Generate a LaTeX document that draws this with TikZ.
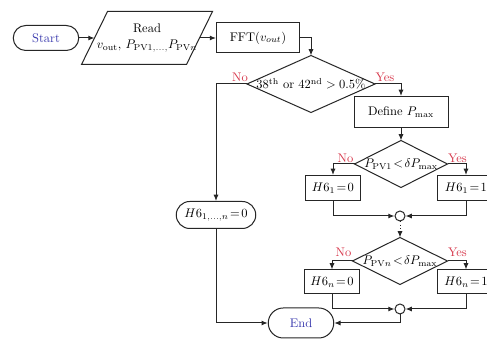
\documentclass[tikz,border=0pt]{standalone}
\usetikzlibrary{shapes.misc,arrows.meta,calc}
\definecolor{termblue}{RGB}{60,60,175}
\definecolor{labred}{RGB}{215,55,75}
\def\U{0.8pt}
\begin{document}
\begin{tikzpicture}[x=0.8pt,y=-0.8pt,
  line width=0.8pt, draw=black!85,
  >={Latex[length=5pt,width=4pt]},
  term/.style={rounded rectangle, draw, inner sep=1pt},
  plainbox/.style={rectangle, draw, inner sep=1pt},
  hidden/.style={rectangle, draw=none, inner sep=0pt},
  junction/.style={circle, draw, fill=white, minimum size=10*\U, inner sep=0pt},
  nolab/.style={text=labred, inner sep=0pt, font=\normalsize},
  yeslab/.style={text=labred, inner sep=0pt, font=\normalsize}]
\clip (0,0) rectangle (487,340);
\fill[white] (0,0) rectangle (487,340);

% nodes
\node[term, minimum width=68*\U, minimum height=25*\U, text=termblue] (start) at (46,38) {Start};
\node[hidden, minimum width=130*\U, minimum height=52*\U, align=center] (read) at (147,38)
  {Read\\[1pt]$v_{\mathrm{out}},\,P_{\mathrm{PV1},\dots,}P_{\mathrm{PV}n}$};
\draw ($(read.north west)+(26,0)$) -- (read.north east) -- ($(read.south east)+(-26,0)$) -- (read.south west) -- cycle;
\coordinate (readin) at ($(read.west)+(13,0)$);
\coordinate (readout) at ($(read.east)+(-13,0)$);
\node[plainbox, minimum width=83*\U, minimum height=30*\U] (fft) at (258,38) {FFT($v_{out}$)};

\node[hidden, minimum width=127*\U, minimum height=56*\U] (d1) at (311,84) {$38^{\mathrm{th}}$ or $42^{\mathrm{nd}}>0.5\%$};
\draw (d1.north) -- (d1.east) -- (d1.south) -- (d1.west) -- cycle;

\node[term, minimum width=82*\U, minimum height=27*\U] (h6all) at (216,215) {$H6_{1,\dots,n}\!=\!0$};

\node[plainbox, minimum width=94*\U, minimum height=31*\U] (define) at (401,112) {Define $P_{\max}$};

\node[hidden, minimum width=92*\U, minimum height=46*\U] (d2) at (401,164) {$P_{\mathrm{PV1}}\!<\!\delta P_{\max}$};
\draw (d2.north) -- (d2.east) -- (d2.south) -- (d2.west) -- cycle;

\node[plainbox, minimum width=55*\U, minimum height=25*\U] (b10) at (333,188) {$H6_1\!=\!0$};
\node[plainbox, minimum width=58*\U, minimum height=25*\U] (b11) at (466,188) {$H6_1\!=\!1$};
\node[junction] (c1) at (400,216) {};

\node[hidden, minimum width=94*\U, minimum height=46*\U] (d3) at (400,261) {$P_{\mathrm{PV}n}\!<\!\delta P_{\max}$};
\draw (d3.north) -- (d3.east) -- (d3.south) -- (d3.west) -- cycle;

\node[plainbox, minimum width=55*\U, minimum height=24*\U] (bn0) at (332,282) {$H6_n\!=\!0$};
\node[plainbox, minimum width=58*\U, minimum height=24*\U] (bn1) at (466,282) {$H6_n\!=\!1$};
\node[junction] (c2) at (400,309) {};

\node[term, minimum width=68*\U, minimum height=30*\U, text=termblue] (end) at (301,323) {End};

% labels
\node[nolab] (no1) at ($(d1.west)+(-7,-7)$) {No};
\node[yeslab] (yes1) at ($(d1.east)+(10,-7)$) {Yes};
\node[nolab] (no2) at ($(d2.west)+(-9,-6)$) {No};
\node[yeslab] (yes2) at ($(d2.east)+(10,-6)$) {Yes};
\node[nolab] (no3) at ($(d3.west)+(-9,-9)$) {No};
\node[yeslab] (yes3) at ($(d3.east)+(10,-9)$) {Yes};

% connectors
\draw[->] (start.east) -- (readin);
\draw[->] (readout) -- (fft.west);
\draw[->] (fft.east) -| (d1.north);
\draw[->] (d1.west) -| (h6all.north);
\draw[->] (d1.east) -| (define.north);
\draw[->] (h6all.south) |- (end.west);
\draw[->] (define.south) -- (d2.north);
\draw[->] (d2.west) -| (b10.north);
\draw[->] (d2.east) -| (b11.north);
\draw[->] (b10.south) |- (c1.west);
\draw[->] (b11.south) |- (c1.east);
\draw[->, dotted] (c1.south) -- (d3.north);
\draw[->] (d3.west) -| (bn0.north);
\draw[->] (d3.east) -| (bn1.north);
\draw[->] (bn0.south) |- (c2.west);
\draw[->] (bn1.south) |- (c2.east);
\draw[->] (c2.south) |- (end.east);
\end{tikzpicture}
\end{document}
